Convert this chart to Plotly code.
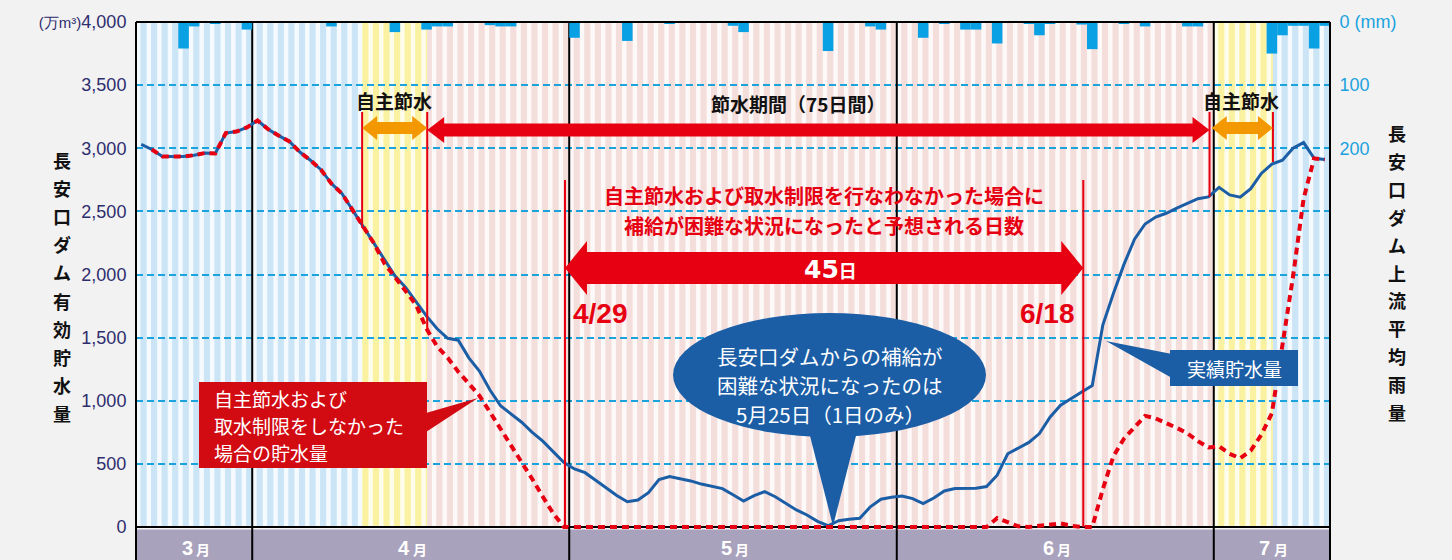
import plotly.graph_objects as go

# ---------------- data ----------------
# day index: 0 = April 1 (Mar 21 = -11 ... Jul 11 = 101)
days = list(range(-11, 102))

storage_actual = [  # 実績貯水量 (万m3)
    3030, 2990, 2935, 2934, 2934, 2945, 2962, 2958, 3120, 3132, 3165,          # Mar 21-31
    3220, 3151, 3100, 3055, 2970, 2905, 2830, 2720, 2640, 2510,                # Apr 1-10
    2380, 2250, 2110, 1990, 1900, 1780, 1670, 1570, 1495, 1480,                # Apr 11-20
    1340, 1235, 1085, 960, 895, 830, 750, 680, 595, 510,                       # Apr 21-30
    460, 430, 370, 310, 250, 200, 214, 272, 375, 400,                          # May 1-10
    385, 365, 340, 325, 304, 255, 205, 248, 280, 240,                          # May 11-20
    185, 135, 95, 45, 10, 50, 62, 69, 160, 220, 235,                           # May 21-31
    245, 225, 185, 230, 285, 305, 307, 307, 320, 410,                          # Jun 1-10
    580, 623, 670, 740, 870, 965, 1020, 1070, 1120, 1600,                      # Jun 11-20
    1850, 2080, 2280, 2400, 2455, 2485, 2525, 2565, 2600, 2615,                # Jun 21-30
    2690, 2630, 2613, 2680, 2800, 2875, 2905, 3000, 3045, 2920, 2910,          # Jul 1-11
]

storage_no_restriction = [  # 自主節水および取水制限をしなかった場合の貯水量
    None, 2990, 2935, 2934, 2934, 2945, 2962, 2958, 3120, 3132, 3165,
    3220, 3151, 3100, 3055, 2970, 2905, 2830, 2720, 2640, 2510,
    2380, 2250, 2090, 1975, 1870, 1760, 1570, 1430, 1340, 1230,
    1130, 1040, 910, 780, 645, 510, 380, 240, 105, 0,
    0, 0, 0, 0, 0, 0, 0, 0, 0, 0,
    0, 0, 0, 0, 0, 0, 0, 0, 0, 0,
    0, 0, 0, 0, 0, 0, 0, 0, 0, 0, 0,
    0, 0, 0, 0, 0, 0, 0, 0, 0, 70,
    38, 5, 0, 10, 20, 28, 10, 0, 0, 300,
    560, 700, 790, 880, 860, 825, 785, 742, 680, 630,
    640, 580, 545, 605, 730, 900, 1450, 1983, 2600, 2920, 2910,
]

rain_days = [-7, -6, -4, -1, 7, 13, 16, 17, 18, 22, 23, 24, 30, 35, 39, 45, 46,
             54, 58, 59, 63, 65, 67, 68, 70, 73, 74, 75, 78, 79, 82, 84, 88, 89,
             96, 97, 98, 99, 100, 101]
rain_mm = [42, 7, 3, 12, 7, 16, 12, 7, 7, 5, 7, 7, 25, 30, 3, 6, 16,
           46, 7, 12, 25, 3, 12, 12, 34, 3, 21, 3, 4, 43, 3, 7, 7, 7,
           50, 21, 6, 6, 42, 6]

month_labels = ["3", "4", "5", "6", "7"]
month_days = [11, 30, 31, 30, 11]          # days shown per month
left_ticks = [0, 500, 1000, 1500, 2000, 2500, 3000, 3500, 4000]
left_ticktext = ["0", "500", "1,000", "1,500", "2,000", "2,500", "3,000", "3,500",
                 "<span style='font-size:15px'>(万m³)</span>4,000"]
rain_ticks = [0, 100, 200]
rain_ticktext = ["0 (mm)", "100", "200"]

# periods (day-index units)
jishu1 = (9.9, 16.06)      # 自主節水 (April)
setsusui = (16.06, 90.1)   # 節水期間
jishu2 = (90.5, 96.1)      # 自主節水 (July)
supply_hard = (29.1, 78.15)  # 4/29 - 6/18

# ---------------- layout geometry ----------------
W, H = 1452, 560
PL, PR, PT = 136, 1330, 22
Y0PIX = 527            # pixel of storage 0
PB = 530               # bottom of plotting area
UNITS_PER_PX = 4000 / (Y0PIX - PT)
YMIN = -(PB - Y0PIX) * UNITS_PER_PX
RAIN_MAX = 800 * (PB - PT) / (Y0PIX - PT)
X0, X1 = days[0] - 0.5, days[-1] + 0.5


def px(p):
    return (p - PL) / (PR - PL)


def py(q):
    return (PB - q) / (PB - PT)


JP = "Noto Sans CJK JP, Noto Sans, sans-serif"
NUM = "Liberation Sans, Arial, sans-serif"
RED = "#e60012"
ORANGE = "#f39800"
BLUE = "#1b5ea6"
CYAN = "#1aa3dc"

fig = go.Figure()

fig.add_trace(go.Bar(x=rain_days, y=rain_mm, yaxis="y2", width=1.0,
                     marker=dict(color="#0aa0e4", line=dict(width=0)),
                     showlegend=False, hoverinfo="skip"))
fig.add_trace(go.Scatter(x=days, y=storage_actual, mode="lines",
                         line=dict(color=BLUE, width=3), showlegend=False))
fig.add_trace(go.Scatter(x=days, y=storage_no_restriction, mode="lines",
                         line=dict(color=RED, width=4, dash="7px,5px"),
                         connectgaps=False, showlegend=False))

shapes = []
# background zones
zones = [(X0, jishu1[0], "#cbe5f7"), (jishu1[0], jishu1[1], "#faf2a0"),
         (jishu1[1], jishu2[0], "#f4dedb"), (jishu2[0], jishu2[1], "#faf2a0"),
         (jishu2[1], X1, "#cbe5f7")]
for a, b, c in zones:
    shapes.append(dict(type="rect", xref="x", yref="y", x0=a, x1=b, y0=0, y1=4000,
                       fillcolor=c, line=dict(width=0), layer="below"))
# white day stripes
for d in days:
    shapes.append(dict(type="rect", xref="x", yref="y", x0=d - 0.5, x1=d - 0.08,
                       y0=0, y1=4000, fillcolor="rgba(255,255,255,0.8)",
                       line=dict(width=0), layer="below"))

# month band
shapes.append(dict(type="rect", xref="paper", yref="paper", x0=0, x1=1,
                   y0=py(560), y1=py(529.5), fillcolor="#a9a2bd",
                   line=dict(width=0), layer="above"))
# month boundaries
bounds = []
acc = X0
for n in month_days[:-1]:
    acc += n
    bounds.append(acc)
for bx in bounds:
    shapes.append(dict(type="line", xref="x", yref="y", x0=bx, x1=bx,
                       y0=0, y1=4000, line=dict(color="black", width=2), layer="between"))
    shapes.append(dict(type="line", xref="x", yref="paper", x0=bx, x1=bx,
                       y0=py(560), y1=py(527), line=dict(color="black", width=2),
                       layer="above"))
# plot border: bottom line under the traces, others on top
shapes.append(dict(type="line", xref="x", yref="y", x0=X0, x1=X1, y0=0, y1=0,
                   line=dict(color="black", width=2), layer="between"))
shapes.append(dict(type="line", xref="paper", yref="paper", x0=0, x1=1,
                   y0=py(PT), y1=py(PT), line=dict(color="black", width=2),
                   layer="above"))
for bx in (0, 1):
    shapes.append(dict(type="line", xref="paper", yref="paper", x0=bx, x1=bx,
                       y0=py(560), y1=py(PT), line=dict(color="black", width=2),
                       layer="above"))

# red vertical lines
for xv, ytop, ybot in [(jishu1[0], 112, 228), (jishu1[1], 112, 332),
                       (setsusui[1], 112, 197), (jishu2[1], 112, 162),
                       (supply_hard[0], 180, 527), (supply_hard[1], 180, 527)]:
    shapes.append(dict(type="line", xref="x", yref="paper", x0=xv, x1=xv,
                       y0=py(ybot), y1=py(ytop), line=dict(color=RED, width=2),
                       layer="above"))


def harrow(x0, x1, yc, bh, hh, hl, color, left=True, right=True):
    pts = []
    if left:
        pts += [(x0, yc), (x0 + hl, yc - hh), (x0 + hl, yc - bh)]
    else:
        pts += [(x0, yc + bh), (x0, yc - bh)]
    if right:
        pts += [(x1 - hl, yc - bh), (x1 - hl, yc - hh), (x1, yc),
                (x1 - hl, yc + hh), (x1 - hl, yc + bh)]
    else:
        pts += [(x1, yc - bh), (x1, yc + bh)]
    if left:
        pts += [(x0 + hl, yc + bh), (x0 + hl, yc + hh)]
    path = "M " + " L ".join(f"{px(a):.5f},{py(b):.5f}" for a, b in pts) + " Z"
    return dict(type="path", xref="paper", yref="paper", path=path,
                fillcolor=color, line=dict(width=0), layer="above")


def xpix(xv):
    return PL + (xv - X0) / (X1 - X0) * (PR - PL)


shapes.append(harrow(xpix(jishu1[0]), xpix(jishu1[1]), 128, 6, 12, 15, ORANGE))
shapes.append(harrow(xpix(setsusui[0]), xpix(setsusui[1]), 130, 6.5, 13, 17, RED))
shapes.append(harrow(xpix(jishu2[0]) - 2, xpix(jishu2[1]), 128, 6, 12, 15, ORANGE))
shapes.append(harrow(xpix(supply_hard[0]), xpix(supply_hard[1]), 268, 16, 27, 22, RED))


def poly(pts, color):
    path = "M " + " L ".join(f"{px(a):.5f},{py(b):.5f}" for a, b in pts) + " Z"
    return dict(type="path", xref="paper", yref="paper", path=path,
                fillcolor=color, line=dict(width=0), layer="above")


# red callout box
BOXRED = "#d20a12"
shapes.append(dict(type="rect", xref="paper", yref="paper", x0=px(199), x1=px(427),
                   y0=py(468), y1=py(382), fillcolor=BOXRED, line=dict(width=0),
                   layer="above"))
shapes.append(poly([(426, 413), (478, 398), (426, 432)], BOXRED))
# blue ellipse callout
shapes.append(dict(type="circle", xref="paper", yref="paper", x0=px(673), x1=px(986),
                   y0=py(437), y1=py(313), fillcolor=BLUE, line=dict(width=0),
                   layer="above"))
shapes.append(poly([(808, 428), (833, 526), (858, 428)], BLUE))
# blue label box
shapes.append(dict(type="rect", xref="paper", yref="paper", x0=px(1170), x1=px(1298),
                   y0=py(386), y1=py(350), fillcolor=BLUE, line=dict(width=0),
                   layer="above"))
shapes.append(poly([(1172, 354), (1106, 341), (1172, 378)], BLUE))

ann = []


def txt(x, y, s, size, color, family=JP, weight="normal", xanchor="center"):
    ann.append(dict(xref="paper", yref="paper", x=px(x), y=py(y), text=s,
                    showarrow=False, xanchor=xanchor, yanchor="middle",
                    font=dict(size=size, color=color, family=family, weight=weight)))


txt(394, 101, "自主節水", 19, "#111", weight="bold")
txt(1241, 101, "自主節水", 19, "#111", weight="bold")
txt(798, 103, "節水期間（75日間）", 19, "#111", weight="bold")
txt(824, 196, "自主節水および取水制限を行なわなかった場合に", 20, RED, weight="bold")
txt(824, 226, "補給が困難な状況になったと予想される日数", 20, RED, weight="bold")
txt(830, 269, "<span style='font-family:DejaVu Sans;font-size:25px'>45</span>日", 18,
    "white", weight="bold")
txt(600, 313, "4/29", 28, RED, family="Liberation Sans Narrow, Liberation Sans", weight="bold")
txt(1047, 313, "6/18", 28, RED, family="Liberation Sans Narrow, Liberation Sans", weight="bold")
for i, line in enumerate(["長安口ダムからの補給が", "困難な状況になったのは", "5月25日（1日のみ）"]):
    txt(830, 356 + 29 * i, line, 20.5, "white")
for i, line in enumerate(["自主節水および", "取水制限をしなかった", "場合の貯水量"]):
    txt(212, 398 + 27 * i, line, 19, "white", xanchor="left")
txt(1234, 368, "実績貯水量", 19, "white")

# vertical axis titles
for i, ch in enumerate("長安口ダム有効貯水量"):
    txt(62, 160 + 28.1 * i, ch, 18, "#111", weight="bold")
for i, ch in enumerate("長安口ダム上流平均雨量"):
    txt(1397, 133 + 27.9 * i, ch, 18, "#111", weight="bold")

# month labels
acc = X0
for m, n in zip(month_labels, month_days):
    c = acc + n / 2
    acc += n
    cpx = xpix(c)
    txt(cpx - 7, 548, m, 20, "white", family=NUM, weight="bold")
    txt(cpx + 9, 549, "月", 14, "white", family=JP, weight="bold")

fig.update_layout(
    width=W, height=H, autosize=False,
    margin=dict(l=PL, r=W - PR, t=PT, b=H - PB, pad=0),
    paper_bgcolor="#f2f2f2", plot_bgcolor="rgba(0,0,0,0)",
    barmode="overlay", showlegend=False,
    xaxis=dict(range=[X0, X1], showticklabels=False, showgrid=False, zeroline=False,
               ticks="", showline=False, fixedrange=True),
    yaxis=dict(range=[YMIN, 4000], tickvals=left_ticks, ticktext=left_ticktext,
               showgrid=True, gridcolor=CYAN, gridwidth=1.5, griddash="7px,4px",
               zeroline=False, showline=False, ticks="outside", ticklen=5,
               tickcolor="rgba(0,0,0,0)",
               tickfont=dict(size=18, color="#2e2d6e", family=NUM), fixedrange=True),
    yaxis2=dict(overlaying="y", side="right", range=[RAIN_MAX, 0], tickvals=rain_ticks,
                ticktext=rain_ticktext, showgrid=False, zeroline=False, showline=False,
                ticks="outside", ticklen=5, tickcolor="rgba(0,0,0,0)",
                tickfont=dict(size=18, color="#1ba2de", family=NUM), fixedrange=True),
    shapes=shapes,
    annotations=ann,
)

fig.write_html("out.html")
